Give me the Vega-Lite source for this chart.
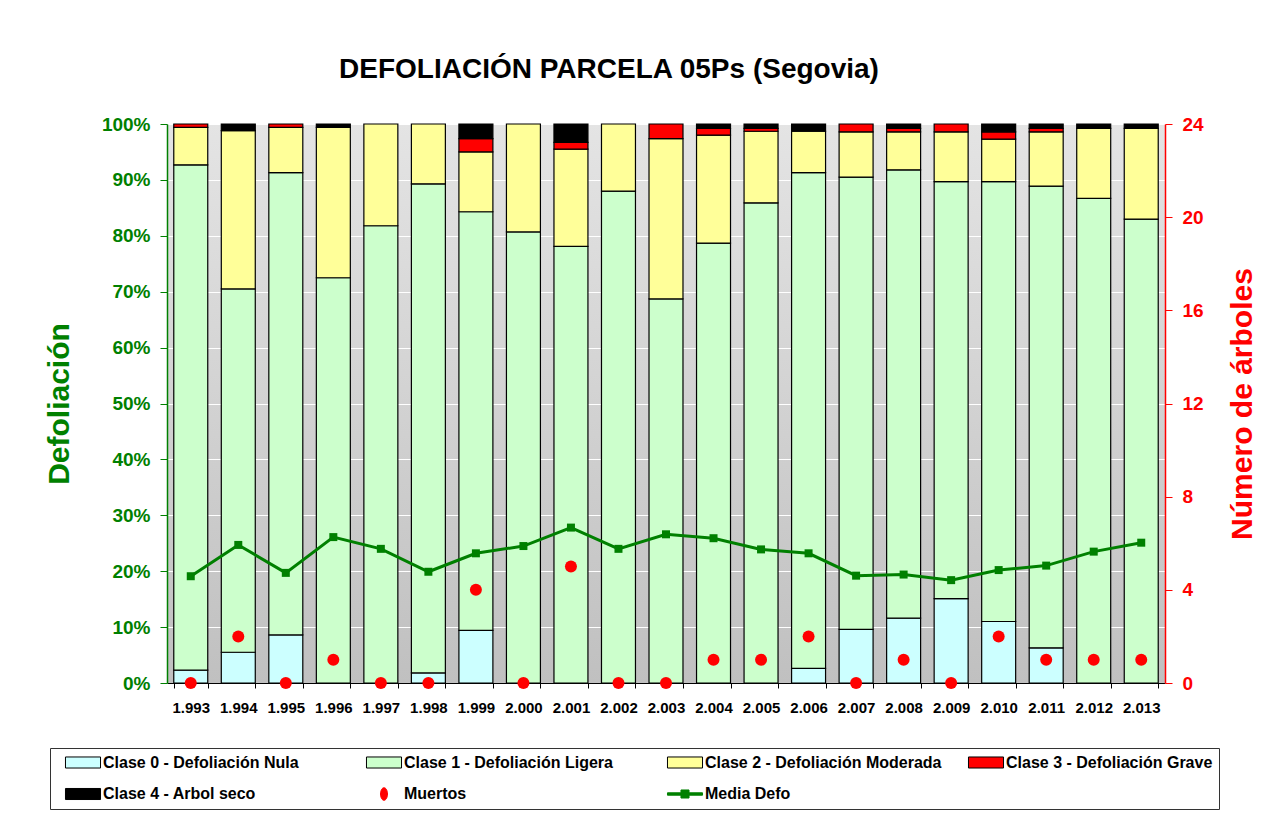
{
  "$schema": "https://vega.github.io/schema/vega-lite/v6.json",
  "width": 998,
  "height": 559,
  "autosize": {"type": "none"},
  "padding": {"left": 167, "top": 124, "right": 119, "bottom": 131},
  "background": "white",
  "title": {
    "text": "DEFOLIACIÓN PARCELA 05Ps (Segovia)",
    "font": "Liberation Sans",
    "fontSize": 28,
    "fontWeight": "bold",
    "color": "black",
    "anchor": "middle",
    "dx": -57,
    "offset": 9,
    "baseline": "alphabetic"
  },
  "config": {
    "font": "Liberation Sans",
    "view": {
      "stroke": null,
      "fill": {"gradient": "linear", "x1": 0, "y1": 0, "x2": 0, "y2": 1, "stops": [{"offset": 0, "color": "#e4e4e4"}, {"offset": 1, "color": "#c0c0c0"}]}
    },
    "legend": {
      "title": null,
      "orient": "none",
      "legendX": -117,
      "legendY": 624,
      "direction": "horizontal",
      "columns": 4,
      "gridAlign": "all",
      "columnPadding": 17,
      "rowPadding": 14,
      "padding": 6,
      "symbolOffset": 19,
      "labelOffset": 12,
      "labelFont": "Liberation Sans",
      "labelFontSize": 16,
      "labelFontWeight": "bold",
      "labelColor": "black",
      "labelLimit": 400,
      "strokeColor": "#333333",
      "fillColor": "white",
      "symbolSize": 144,
      "symbolStrokeWidth": 1,
      "symbolOpacity": 1
    }
  },
  "datasets": {
    "clases": [
      {"anio": "1.993", "clase": "Clase 0 - Defoliación Nula", "v": 2.3},
      {"anio": "1.993", "clase": "Clase 1 - Defoliación Ligera", "v": 90.4},
      {"anio": "1.993", "clase": "Clase 2 - Defoliación Moderada", "v": 6.7},
      {"anio": "1.993", "clase": "Clase 3 - Defoliación Grave", "v": 0.6},
      {"anio": "1.994", "clase": "Clase 0 - Defoliación Nula", "v": 5.5},
      {"anio": "1.994", "clase": "Clase 1 - Defoliación Ligera", "v": 65.0},
      {"anio": "1.994", "clase": "Clase 2 - Defoliación Moderada", "v": 28.3},
      {"anio": "1.994", "clase": "Clase 4 - Arbol seco", "v": 1.2},
      {"anio": "1.995", "clase": "Clase 0 - Defoliación Nula", "v": 8.6},
      {"anio": "1.995", "clase": "Clase 1 - Defoliación Ligera", "v": 82.7},
      {"anio": "1.995", "clase": "Clase 2 - Defoliación Moderada", "v": 8.1},
      {"anio": "1.995", "clase": "Clase 3 - Defoliación Grave", "v": 0.6},
      {"anio": "1.996", "clase": "Clase 1 - Defoliación Ligera", "v": 72.5},
      {"anio": "1.996", "clase": "Clase 2 - Defoliación Moderada", "v": 26.9},
      {"anio": "1.996", "clase": "Clase 4 - Arbol seco", "v": 0.6},
      {"anio": "1.997", "clase": "Clase 1 - Defoliación Ligera", "v": 81.8},
      {"anio": "1.997", "clase": "Clase 2 - Defoliación Moderada", "v": 18.2},
      {"anio": "1.998", "clase": "Clase 0 - Defoliación Nula", "v": 1.8},
      {"anio": "1.998", "clase": "Clase 1 - Defoliación Ligera", "v": 87.5},
      {"anio": "1.998", "clase": "Clase 2 - Defoliación Moderada", "v": 10.7},
      {"anio": "1.999", "clase": "Clase 0 - Defoliación Nula", "v": 9.4},
      {"anio": "1.999", "clase": "Clase 1 - Defoliación Ligera", "v": 74.9},
      {"anio": "1.999", "clase": "Clase 2 - Defoliación Moderada", "v": 10.7},
      {"anio": "1.999", "clase": "Clase 3 - Defoliación Grave", "v": 2.4},
      {"anio": "1.999", "clase": "Clase 4 - Arbol seco", "v": 2.6},
      {"anio": "2.000", "clase": "Clase 1 - Defoliación Ligera", "v": 80.7},
      {"anio": "2.000", "clase": "Clase 2 - Defoliación Moderada", "v": 19.3},
      {"anio": "2.001", "clase": "Clase 1 - Defoliación Ligera", "v": 78.1},
      {"anio": "2.001", "clase": "Clase 2 - Defoliación Moderada", "v": 17.4},
      {"anio": "2.001", "clase": "Clase 3 - Defoliación Grave", "v": 1.2},
      {"anio": "2.001", "clase": "Clase 4 - Arbol seco", "v": 3.3},
      {"anio": "2.002", "clase": "Clase 1 - Defoliación Ligera", "v": 88.0},
      {"anio": "2.002", "clase": "Clase 2 - Defoliación Moderada", "v": 12.0},
      {"anio": "2.003", "clase": "Clase 1 - Defoliación Ligera", "v": 68.7},
      {"anio": "2.003", "clase": "Clase 2 - Defoliación Moderada", "v": 28.7},
      {"anio": "2.003", "clase": "Clase 3 - Defoliación Grave", "v": 2.6},
      {"anio": "2.004", "clase": "Clase 1 - Defoliación Ligera", "v": 78.7},
      {"anio": "2.004", "clase": "Clase 2 - Defoliación Moderada", "v": 19.3},
      {"anio": "2.004", "clase": "Clase 3 - Defoliación Grave", "v": 1.2},
      {"anio": "2.004", "clase": "Clase 4 - Arbol seco", "v": 0.8},
      {"anio": "2.005", "clase": "Clase 1 - Defoliación Ligera", "v": 85.9},
      {"anio": "2.005", "clase": "Clase 2 - Defoliación Moderada", "v": 12.8},
      {"anio": "2.005", "clase": "Clase 3 - Defoliación Grave", "v": 0.5},
      {"anio": "2.005", "clase": "Clase 4 - Arbol seco", "v": 0.8},
      {"anio": "2.006", "clase": "Clase 0 - Defoliación Nula", "v": 2.6},
      {"anio": "2.006", "clase": "Clase 1 - Defoliación Ligera", "v": 88.7},
      {"anio": "2.006", "clase": "Clase 2 - Defoliación Moderada", "v": 7.4},
      {"anio": "2.006", "clase": "Clase 4 - Arbol seco", "v": 1.3},
      {"anio": "2.007", "clase": "Clase 0 - Defoliación Nula", "v": 9.6},
      {"anio": "2.007", "clase": "Clase 1 - Defoliación Ligera", "v": 80.9},
      {"anio": "2.007", "clase": "Clase 2 - Defoliación Moderada", "v": 8.1},
      {"anio": "2.007", "clase": "Clase 3 - Defoliación Grave", "v": 1.4},
      {"anio": "2.008", "clase": "Clase 0 - Defoliación Nula", "v": 11.6},
      {"anio": "2.008", "clase": "Clase 1 - Defoliación Ligera", "v": 80.2},
      {"anio": "2.008", "clase": "Clase 2 - Defoliación Moderada", "v": 6.8},
      {"anio": "2.008", "clase": "Clase 3 - Defoliación Grave", "v": 0.6},
      {"anio": "2.008", "clase": "Clase 4 - Arbol seco", "v": 0.8},
      {"anio": "2.009", "clase": "Clase 0 - Defoliación Nula", "v": 15.1},
      {"anio": "2.009", "clase": "Clase 1 - Defoliación Ligera", "v": 74.6},
      {"anio": "2.009", "clase": "Clase 2 - Defoliación Moderada", "v": 8.9},
      {"anio": "2.009", "clase": "Clase 3 - Defoliación Grave", "v": 1.4},
      {"anio": "2.010", "clase": "Clase 0 - Defoliación Nula", "v": 11.0},
      {"anio": "2.010", "clase": "Clase 1 - Defoliación Ligera", "v": 78.7},
      {"anio": "2.010", "clase": "Clase 2 - Defoliación Moderada", "v": 7.6},
      {"anio": "2.010", "clase": "Clase 3 - Defoliación Grave", "v": 1.3},
      {"anio": "2.010", "clase": "Clase 4 - Arbol seco", "v": 1.4},
      {"anio": "2.011", "clase": "Clase 0 - Defoliación Nula", "v": 6.3},
      {"anio": "2.011", "clase": "Clase 1 - Defoliación Ligera", "v": 82.6},
      {"anio": "2.011", "clase": "Clase 2 - Defoliación Moderada", "v": 9.7},
      {"anio": "2.011", "clase": "Clase 3 - Defoliación Grave", "v": 0.6},
      {"anio": "2.011", "clase": "Clase 4 - Arbol seco", "v": 0.8},
      {"anio": "2.012", "clase": "Clase 1 - Defoliación Ligera", "v": 86.7},
      {"anio": "2.012", "clase": "Clase 2 - Defoliación Moderada", "v": 12.5},
      {"anio": "2.012", "clase": "Clase 4 - Arbol seco", "v": 0.8},
      {"anio": "2.013", "clase": "Clase 1 - Defoliación Ligera", "v": 83.0},
      {"anio": "2.013", "clase": "Clase 2 - Defoliación Moderada", "v": 16.2},
      {"anio": "2.013", "clase": "Clase 4 - Arbol seco", "v": 0.8}
    ],
    "anual": [
      {"anio": "1.993", "media": 19.1, "muertos": 0},
      {"anio": "1.994", "media": 24.7, "muertos": 2},
      {"anio": "1.995", "media": 19.7, "muertos": 0},
      {"anio": "1.996", "media": 26.1, "muertos": 1},
      {"anio": "1.997", "media": 24.0, "muertos": 0},
      {"anio": "1.998", "media": 19.9, "muertos": 0},
      {"anio": "1.999", "media": 23.2, "muertos": 4},
      {"anio": "2.000", "media": 24.5, "muertos": 0},
      {"anio": "2.001", "media": 27.8, "muertos": 5},
      {"anio": "2.002", "media": 24.0, "muertos": 0},
      {"anio": "2.003", "media": 26.6, "muertos": 0},
      {"anio": "2.004", "media": 25.9, "muertos": 1},
      {"anio": "2.005", "media": 23.9, "muertos": 1},
      {"anio": "2.006", "media": 23.2, "muertos": 2},
      {"anio": "2.007", "media": 19.2, "muertos": 0},
      {"anio": "2.008", "media": 19.4, "muertos": 1},
      {"anio": "2.009", "media": 18.4, "muertos": 0},
      {"anio": "2.010", "media": 20.2, "muertos": 2},
      {"anio": "2.011", "media": 21.0, "muertos": 1},
      {"anio": "2.012", "media": 23.5, "muertos": 1},
      {"anio": "2.013", "media": 25.1, "muertos": 1}
    ]
  },
  "encoding": {
    "x": {
      "field": "anio",
      "type": "ordinal",
      "sort": "ascending",
      "scale": {"paddingInner": 0.285, "paddingOuter": 0.1425},
      "axis": {
        "title": null,
        "labelAngle": 0,
        "labelFontSize": 15,
        "labelFontWeight": "bold",
        "labelColor": "black",
        "labelPadding": 12,
        "tickBand": "extent",
        "tickColor": "black",
        "tickSize": 5,
        "domainColor": "black",
        "domainWidth": 1.2
      }
    }
  },
  "layer": [
    {
      "data": {"name": "clases"},
      "mark": {"type": "bar", "stroke": "black", "strokeWidth": 1.2, "opacity": 1},
      "encoding": {
        "y": {
          "field": "v",
          "type": "quantitative",
          "stack": "zero",
          "scale": {"domain": [0, 100], "nice": false},
          "axis": {
            "orient": "left",
            "values": [0, 10, 20, 30, 40, 50, 60, 70, 80, 90, 100],
            "labelExpr": "datum.value + '%'",
            "labelColor": "#008000",
            "labelFontSize": 19,
            "labelFontWeight": "bold",
            "labelPadding": 10,
            "tickColor": "#008000",
            "tickSize": 7,
            "domainColor": "#008000",
            "domainWidth": 1.5,
            "grid": true,
            "gridColor": "white",
            "gridWidth": 1,
            "title": "Defoliación",
            "titleColor": "#008000",
            "titleFontSize": 30,
            "titleFontWeight": "bold",
            "titleAngle": -90,
            "titleAlign": "center",
            "titleBaseline": "middle",
            "titleX": -108,
            "titleY": 279.5
          }
        },
        "order": {"field": "clase", "sort": "ascending"},
        "color": {
          "field": "clase",
          "type": "nominal",
          "scale": {
            "domain": ["Clase 0 - Defoliación Nula", "Clase 1 - Defoliación Ligera", "Clase 2 - Defoliación Moderada", "Clase 3 - Defoliación Grave", "Clase 4 - Arbol seco", "Muertos", "Media Defo"],
            "range": ["#CCFFFF", "#CCFFCC", "#FFFF99", "#FF0000", "#000000", "#FF0000", "#008000"]
          },
          "legend": {"title": null}
        }
      }
    },
    {
      "data": {"name": "clases"},
      "mark": {"type": "point", "filled": true, "opacity": 0},
      "encoding": {
        "color": {"field": "clase", "type": "nominal", "legend": {"title": null}},
        "shape": {
          "field": "clase",
          "type": "nominal",
          "scale": {
            "domain": ["Clase 0 - Defoliación Nula", "Clase 1 - Defoliación Ligera", "Clase 2 - Defoliación Moderada", "Clase 3 - Defoliación Grave", "Clase 4 - Arbol seco", "Muertos", "Media Defo"],
            "range": ["M-2.92,-0.92H2.92V0.92H-2.92Z", "M-2.92,-0.92H2.92V0.92H-2.92Z", "M-2.92,-0.92H2.92V0.92H-2.92Z", "M-2.92,-0.92H2.92V0.92H-2.92Z", "M-2.92,-0.92H2.92V0.92H-2.92Z", "M-0.58,0A0.58,1.05,0,1,1,0.58,0A0.58,1.05,0,1,1,-0.58,0Z", "M-2.92,-0.2H-0.67V-0.67H0.67V-0.2H2.92V0.2H0.67V0.67H-0.67V0.2H-2.92Z"]
          },
          "legend": {"title": null}
        },
        "stroke": {
          "field": "clase",
          "type": "nominal",
          "scale": {
            "domain": ["Clase 0 - Defoliación Nula", "Clase 1 - Defoliación Ligera", "Clase 2 - Defoliación Moderada", "Clase 3 - Defoliación Grave", "Clase 4 - Arbol seco", "Muertos", "Media Defo"],
            "range": ["#000000", "#000000", "#000000", "#000000", "#000000", "#FF0000", "#008000"]
          },
          "legend": {"title": null}
        }
      }
    },
    {
      "data": {"name": "anual"},
      "mark": {"type": "point", "shape": "circle", "filled": true, "color": "#FF0000", "size": 144, "opacity": 1},
      "encoding": {
        "y": {
          "field": "muertos",
          "type": "quantitative",
          "scale": {"domain": [0, 24], "nice": false},
          "axis": {
            "orient": "right",
            "values": [0, 4, 8, 12, 16, 20, 24],
            "labelColor": "#FF0000",
            "labelFontSize": 19,
            "labelFontWeight": "bold",
            "labelPadding": 10,
            "tickColor": "#FF0000",
            "tickSize": 7,
            "domainColor": "#FF0000",
            "domainWidth": 1.5,
            "grid": false,
            "title": "Número de árboles",
            "titleColor": "#FF0000",
            "titleFontSize": 30,
            "titleFontWeight": "bold",
            "titleAngle": -90,
            "titleAlign": "center",
            "titleBaseline": "middle",
            "titleX": 77,
            "titleY": 279.5
          }
        }
      }
    },
    {
      "data": {"name": "anual"},
      "mark": {"type": "line", "color": "#008000", "strokeWidth": 3, "point": {"shape": "square", "size": 64, "filled": true, "color": "#008000", "opacity": 1}},
      "encoding": {
        "y": {
          "field": "media",
          "type": "quantitative",
          "scale": {"domain": [0, 100], "nice": false},
          "axis": null
        }
      }
    }
  ],
  "resolve": {"scale": {"y": "independent"}}
}
